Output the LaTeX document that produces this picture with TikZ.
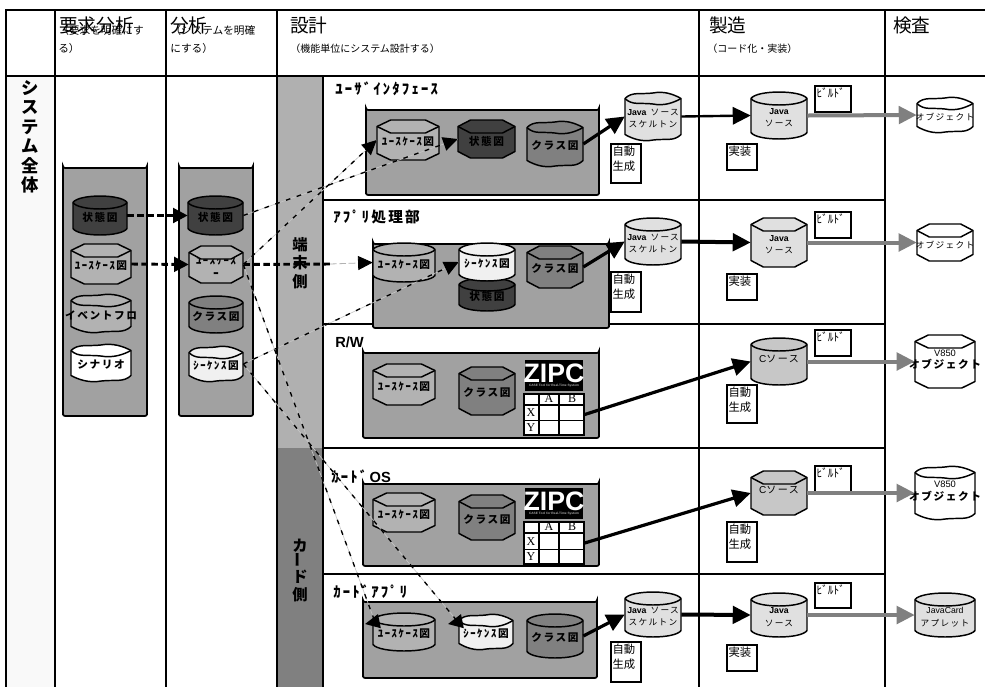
\documentclass[tikz,border=0pt]{standalone}
\usepackage{fontspec}
\setmainfont{Noto Sans CJK JP}
\newfontfamily\han[LetterSpace=15]{Noto Sans CJK JP}
\newfontfamily\lat{Liberation Sans}
\newfontfamily\ser{Liberation Serif}
\usetikzlibrary{arrows.meta,shapes.misc}
\definecolor{gbox}{gray}{0.63}
\definecolor{dark}{gray}{0.25}
\definecolor{ucg}{gray}{0.70}
\definecolor{clsg}{gray}{0.50}
\definecolor{seqg}{gray}{0.94}
\definecolor{srcg}{gray}{0.88}
\definecolor{cg}{gray}{0.78}
\definecolor{side1}{gray}{0.69}
\definecolor{side2}{gray}{0.50}
\definecolor{buildg}{gray}{0.50}
% cap curves: from (#1,#3) to (#2,#3), bulging by #4
\newcommand\capr[4]{.. controls ({#1+.10*(#2-#1)},{#3+#4*1.33}) and ({#2-.10*(#2-#1)},{#3+#4*1.33}) .. (#2,#3)}
\newcommand\caph[4]{-- ({#1+.22*(#2-#1)},{#3+#4}) -- ({#2-.22*(#2-#1)},{#3+#4}) -- (#2,#3)}
\newcommand\capw[4]{.. controls ({#1+.12*(#2-#1)},{#3+#4*1.1}) and ({#1+.28*(#2-#1)},{#3+#4*.6}) .. ({#1+.5*(#2-#1)},{#3+#4*.85}) .. controls ({#1+.7*(#2-#1)},{#3+#4*1.2}) and ({#1+.88*(#2-#1)},{#3+#4*.6}) .. (#2,#3)}
% \cyl[text dy]{name}{xa}{ya}{xb}{yb}{fill}{kind}{text}
\newcommand\cyl[9][0]{%
  \expandafter\let\expandafter\capc\csname cap#8\endcsname
  \pgfmathsetmacro\yA{#4+6.5}\pgfmathsetmacro\yB{#6-6.5}
  \node[anchor=center,minimum width={(#5-#3)*0.75pt},minimum height={(#6-#4)*0.75pt},inner sep=0pt] (#2) at ({(#3+#5)/2},{(#4+#6)/2}) {};
  \fill[#7] (#3,\yA) \capc{#3}{#5}{\yA}{-6.5} -- (#5,\yB) \capc{#5}{#3}{\yB}{6.5} -- cycle;
  \node[cyltext] (#2-t) at ({(#3+#5)/2},{(#4+#6)/2+2+#1}) {#9};
  \fill[#7] (#3,\yA) \capc{#3}{#5}{\yA}{-6.5} \capc{#5}{#3}{\yA}{6.5} -- cycle;
  \draw[cylline] (#3,\yA) \capc{#3}{#5}{\yA}{-6.5} -- (#5,\yB) \capc{#5}{#3}{\yB}{6.5} -- cycle;
  \draw[cylline] (#3,\yA) \capc{#3}{#5}{\yA}{6.5};
}
\newcommand\grp[5]{\node[grpbox,minimum width={(#4-#2)*0.75pt},minimum height={(#5-#3)*0.75pt}] (#1) at ({(#2+#4)/2},{(#3+#5)/2}) {};}
\newcommand\note[6]{\node[notebox,minimum width={(#4-#2)*0.75pt},minimum height={(#5-#3)*0.75pt}] (#1) at ({(#2+#4)/2},{(#3+#5)/2}) {};
  \node[notetext] (#1-t) at (#2,#3) {#6};}
\newcommand\zipc[2]{%
  \node[fill=black,minimum width=43.5pt,minimum height=23pt,inner sep=0pt] (#1) at (554,{#2+15.5}) {};
  \node[text=white,inner sep=0pt,font=\lat\bfseries\fontsize{20}{20}\selectfont] (#1-t) at (554,{#2+13}) {ZIPC};
  \node[text=gray!70,inner sep=0pt,font=\lat\bfseries\fontsize{2.4}{3}\selectfont] (#1-s) at (554,{#2+26}) {CASE Tool for Real-Time System};}
\newcommand\ztable[3]{% name, y top, y bottom
  \pgfmathsetmacro\ra{#2+11}\pgfmathsetmacro\rb{#2+(#3-#2)*.65}
  \node[fill=white,draw=black,line width=1.1pt,minimum width=45pt,minimum height={(#3-#2)*0.75pt},inner sep=0pt] (#1) at (554,{(#2+#3)/2}) {};
  \draw[line width=1.1pt] (524,\ra) -- (584,\ra) (524,\rb) -- (584,\rb) (539,#2) -- (539,#3) (559,#2) -- (559,#3);
  \node[ztext] (#1-a) at (549,{#2+5}) {A};
  \node[ztext] (#1-b) at (572,{#2+5}) {B};
  \node[ztext] (#1-x) at (531,{(\ra+\rb)/2}) {X};
  \node[ztext] (#1-y) at (531,{(\rb+#3)/2}) {Y};}
\tikzset{
  x=0.75pt,y=-0.75pt,
  grid/.style={line width=1.35pt,black},
  cylline/.style={line width=1.1pt,black,line join=round},
  cyltext/.style={inner sep=0pt,align=center,font=\fs},
  grpbox/.style={chamfered rectangle,chamfered rectangle xsep=6pt,chamfered rectangle ysep=6pt,fill=gbox,draw=black,line width=1.3pt,rounded corners=1.5pt,inner sep=0pt},
  notebox/.style={draw=black,fill=white,line width=1.1pt,inner sep=0pt},
  notetext/.style={anchor=north west,inner sep=1pt,align=left,font=\fontsize{8.5}{11.5}\selectfont},
  ztext/.style={inner sep=0pt,font=\ser\fontsize{9}{9}\selectfont},
  head/.style={inner sep=0pt,anchor=base west,font=\fontsize{14}{14}\selectfont},
  sub/.style={inner sep=0pt,anchor=base west,align=left,font=\fontsize{8}{13.5}\selectfont},
  title/.style={inner sep=0pt,anchor=base west,font=\bfseries\han\fontsize{11}{11}\selectfont},
  vert/.style={inner sep=0pt,align=center,font=\bfseries\fontsize{11.5}{14}\selectfont},
  bigarrow/.style={-{Triangle[length=13.5pt,width=13pt]}},
  blk/.style={bigarrow,black},
  gry/.style={bigarrow,buildg,line width=3pt},
  thickdash/.style={black,line width=2.2pt,dash pattern=on 5pt off 2.5pt},
  mixdash/.style={black,line width=1pt,dash pattern=on 3.5pt off 5pt,-{Triangle[length=11pt,width=10.5pt]},preaction={draw=gray!45,line width=.45pt,solid,arrows=-}},
}
\newcommand\fs{\bfseries\han\fontsize{8}{9.5}\selectfont}
\newcommand\fw{\bfseries\fontsize{8}{9.5}\selectfont}
\newcommand\sm{\mdseries\lat\fontsize{6.5}{8.5}\selectfont}
\newcommand\smj{\mdseries\fontsize{6.5}{8.5}\selectfont}
\newcommand\ck{\mdseries\fontsize{7.5}{9}\selectfont}
\newcommand\jv{{\lat\fontsize{6.5}{8.5}\selectfont Java}}
\begin{document}
\begin{tikzpicture}
\useasboundingbox (0,0) rectangle (985,687);
\fill[white] (0,0) rectangle (985,687);
\fill[gray!5] (6,76) rectangle (55,687);
\fill[side1] (277,76) rectangle (323,448);
\fill[side2] (277,448) rectangle (323,687);
% grid
\draw[grid] (985,10) -- (6,10) -- (6,687);
\draw[grid] (6,76) -- (985,76);
\foreach \xx in {55,166,277,323,699,885} {\draw[grid] (\xx,{\xx==323?76:10}) -- (\xx,687);}
\foreach \yy in {200,324,448,574} {\draw[grid] (323,\yy) -- (885,\yy);}
% headers
\node[head] (h1) at (59,32) {要求分析};
\node[sub] (h1s) at (58,52) {（要求を明確にす\\る）};
\node[head] (h2) at (170,32) {分析};
\node[sub] (h2s) at (170,52) {（システムを明確\\にする）};
\node[head] (h3) at (290,32) {設計};
\node[sub,font=\fontsize{7.5}{13}\selectfont] (h3s) at (290,52) {（機能単位にシステム設計する）};
\node[head] (h4) at (709,32) {製造};
\node[sub,font=\fontsize{7.5}{13}\selectfont] (h4s) at (707,52) {（コード化・実装）};
\node[head] (h5) at (893,32) {検査};
% side labels
\node[vert,font=\bfseries\fontsize{13}{14.6}\selectfont] (s0) at (30,137) {シ\\ス\\テ\\ム\\全\\体};
\node[vert] (s1) at (300,263) {端\\末\\側};
\node[vert] (s2a) at (300,546) {カ};
\node[vert] (s2b) at (300,560) {\rotatebox{90}{ー}};
\node[vert] (s2c) at (300,577) {ド};
\node[vert] (s2d) at (300,595) {側};
% row titles
\node[title] (t1) at (335,94) {ﾕｰｻﾞｲﾝﾀﾌｪｰｽ};
\node[title] (t2) at (333,222) {ｱﾌﾟﾘ処理部};
\node[title,font=\lat\bfseries\fontsize{11}{11}\selectfont] (t3) at (335,347) {R/W};
\node[title] (t4) at (331,482) {ｶｰﾄﾞ\,{\lat OS}};
\node[title] (t5) at (333,597) {ｶｰﾄﾞｱﾌﾟﾘ};
% group boxes
\grp{ga}{63}{168}{147}{416}
\grp{gb}{179}{168}{253}{416}
\grp{g1}{366}{110}{599}{195}
\grp{g2}{373}{244}{609}{328}
\grp{g3}{363}{353}{599}{438}
\grp{g4}{363}{484}{599}{566}
\grp{g5}{363}{602}{597}{678}
% requirement column
\cyl{la}{73}{196}{127}{235}{dark}{r}{状態図}
\cyl{lb}{71}{244}{131}{284}{ucg}{h}{ﾕｰｽｹｰｽ図}
\cyl{lc}{71}{294}{131}{333}{ucg}{w}{\fw イベントフロ}
\cyl{ld}{71}{344}{131}{382}{white}{w}{\fw シナリオ}
% analysis column
\cyl{ba}{188}{196}{243}{235}{dark}{r}{状態図}
\cyl{bb}{189}{246}{243}{283}{ucg}{h}{ﾕｰｽｹｰｽ\\ｰ}
\cyl{bc}{189}{296}{243}{333}{clsg}{r}{\fw クラス図}
\cyl{bd}{189}{346}{243}{382}{seqg}{w}{ｼｰｹﾝｽ図}
% user interface row
\cyl{ua}{377}{120}{439}{160}{ucg}{h}{ﾕｰｽｹｰｽ図}
\cyl{ub}{458}{120}{515}{158}{dark}{h}{状態図}
\cyl{uc}{527}{121}{583}{167}{clsg}{w}{\fw クラス図}
\cyl{ud}{625}{92}{681}{141}{srcg}{w}{\jv\ {\smj ソース}\\{\smj スケルトン}}
\cyl{ue}{751}{92}{807}{139}{srcg}{r}{\jv\\{\smj ソース}}
\cyl{uf}{917}{97}{973}{133}{white}{w}{\smj オブジェクト}
% app row
\cyl{pa}{373}{243}{435}{282}{ucg}{r}{ﾕｰｽｹｰｽ図}
\cyl{pc}{459}{278}{515}{311}{dark}{r}{状態図}
\cyl{pb}{459}{243}{515}{281}{seqg}{r}{ｼｰｹﾝｽ図}
\cyl{pd}{527}{246}{583}{288}{clsg}{h}{\fw クラス図}
\cyl{pe}{625}{218}{681}{265}{srcg}{r}{\jv\ {\smj ソース}\\{\smj スケルトン}}
\cyl{pf}{751}{218}{807}{267}{srcg}{h}{\jv\\{\smj ソース}}
\cyl{pg}{917}{224}{973}{261}{white}{h}{\smj オブジェクト}
% R/W row
\cyl{ra}{373}{364}{435}{405}{ucg}{h}{ﾕｰｽｹｰｽ図}
\cyl{rb}{459}{367}{515}{415}{clsg}{h}{\fw クラス図}
\zipc{rz}{360}
\ztable{rt}{394}{435}
\cyl[-5]{rc}{751}{338}{807}{385}{cg}{r}{\ck {\lat C}ソース}
\cyl[-4]{rd}{915}{335}{975}{388}{white}{h}{\mdseries\fontsize{7}{15}\selectfont{\lat V850}\\オブジェクト}
% card OS row
\cyl{oa}{373}{493}{435}{532}{ucg}{h}{ﾕｰｽｹｰｽ図}
\cyl{ob}{459}{495}{515}{540}{clsg}{h}{\fw クラス図}
\zipc{oz}{488}
\ztable{ot}{522}{564}
\cyl[-5]{oc}{751}{471}{807}{515}{cg}{h}{\ck {\lat C}ソース}
\cyl[-4]{od}{915}{466}{975}{520}{white}{w}{\mdseries\fontsize{7}{15}\selectfont{\lat V850}\\オブジェクト}
% card app row
\cyl{aa}{373}{613}{435}{651}{ucg}{r}{ﾕｰｽｹｰｽ図}
\cyl{ab}{459}{614}{513}{650}{seqg}{w}{ｼｰｹﾝｽ図}
\cyl{ac}{527}{614}{583}{658}{clsg}{r}{\fw クラス図}
\cyl{ad}{625}{592}{681}{637}{srcg}{r}{\jv\ {\smj ソース}\\{\smj スケルトン}}
\cyl{ae}{751}{593}{807}{637}{srcg}{r}{\jv\\{\smj ソース}}
\cyl{af}{915}{593}{975}{637}{srcg}{r}{\sm JavaCard\\{\smj アプレット}}
% notes
\note{n1}{611}{144}{641}{183}{自動\\生成}
\note{n2}{727}{144}{757}{170}{実装}
\note{n3}{815}{86}{851}{112}{ﾋﾞﾙﾄﾞ}
\note{n4}{611}{272}{641}{312}{自動\\生成}
\note{n5}{727}{274}{757}{300}{実装}
\note{n6}{815}{212}{851}{238}{ﾋﾞﾙﾄﾞ}
\note{n7}{727}{385}{757}{423}{自動\\生成}
\note{n8}{815}{330}{851}{356}{ﾋﾞﾙﾄﾞ}
\note{n9}{727}{522}{757}{562}{自動\\生成}
\note{n10}{815}{466}{851}{492}{ﾋﾞﾙﾄﾞ}
\note{n11}{611}{642}{641}{682}{自動\\生成}
\note{n12}{727}{645}{757}{671}{実装}
\note{n13}{815}{583}{851}{608}{ﾋﾞﾙﾄﾞ}
% solid connectors
\draw[blk,line width=2.4pt] (uc.east) -- (ud.west);
\draw[blk,line width=1.8pt] (ud.east) -- (ue.west);
\draw[gry] (ue.east) -- (uf.west);
\draw[blk,line width=2.4pt] (pd.east) -- (pe.west);
\draw[blk,line width=3pt] (pe.east) -- (pf.west);
\draw[gry] (pf.east) -- (pg.west);
\draw[blk,line width=2.4pt] (rt.east) -- (rc.west);
\draw[gry] (rc.east) -- (rd.west);
\draw[blk,line width=2.4pt] (ot.east) -- (oc.west);
\draw[gry] (oc.east) -- (od.west);
\draw[blk,line width=2.4pt] (ac.east) -- (ad.west);
\draw[blk,line width=3pt] (ad.east) -- (ae.west);
\draw[gry] (ae.east) -- (af.west);
% dashed connectors
\draw[thickdash,-{Triangle[length=11pt,width=11pt,fill=black]}] (la.east) -- (ba.west);
\draw[thickdash,-{Triangle[length=11pt,width=11pt,fill=black]}] (lb.east) -- (bb.west);
\draw[mixdash] (ba.east) -- (ub.west);
\draw[mixdash] (bb.east) -- (ua.west);
\coordinate (mid) at (330,264);
\draw[thickdash] (bb.east) -- (mid);
\draw[gray!60,line width=.6pt,dash pattern=on 5pt off 2pt,-{Triangle[length=11pt,width=10.5pt,black]}] (mid) -- (pa.west);
\draw[mixdash] (bd.east) -- (pb.west);
\coordinate (c1) at (375,622);
\draw[mixdash,rounded corners=0pt] (bb.east) -- (c1) -- (365,624);
\coordinate (c2) at (458,622);
\draw[mixdash] (bd.east) -- (c2) -- (448,624);
\end{tikzpicture}
\end{document}
